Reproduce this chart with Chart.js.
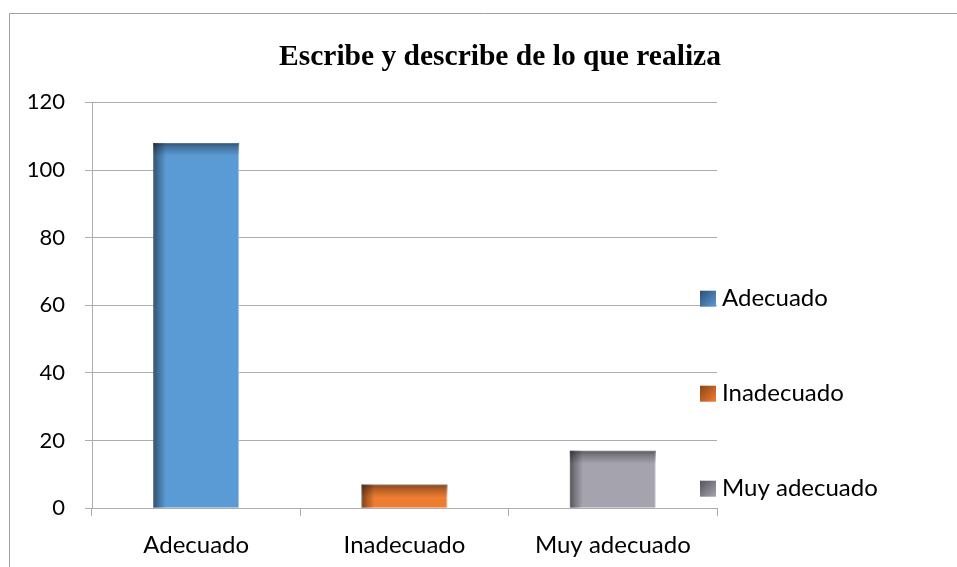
<!DOCTYPE html>
<html>
<head>
<meta charset="utf-8">
<title>Escribe y describe de lo que realiza</title>
<script src="https://cdn.jsdelivr.net/npm/chart.js@4.4.1/dist/chart.umd.min.js"></script>
<style>
  html, body { margin: 0; padding: 0; background: #fff; }
  canvas { display: block; }
</style>
</head>
<body>
<canvas id="chart" width="957" height="567"></canvas>
<script>
// values
const categories = ['Adecuado', 'Inadecuado', 'Muy adecuado'];
const values = [108, 7, 17];
const yTicks = [0, 20, 40, 60, 80, 100, 120];

const barColors = ['#5b9bd5', '#ed7d31', '#a5a4ae'];
const edgeColors = ['#2d4f78', '#8c4517', '#56555d'];
const outlineColors = ['#a3c4e8', '#f2a877', '#d2d2d6'];
const gridColor = '#adadad';
const textFont = 'Lato, "Open Sans", sans-serif';

// white page + thin grey frame round the chart
const framePlugin = {
    id: 'frame',
    beforeDraw(chart) {
        const ctx = chart.ctx;
        ctx.save();
        ctx.fillStyle = '#fff';
        ctx.fillRect(0, 0, chart.width, chart.height);
        ctx.strokeStyle = '#a0a0a0';
        ctx.lineWidth = 1;
        ctx.beginPath();
        ctx.moveTo(9.5, chart.height);
        ctx.lineTo(9.5, 13.5);
        ctx.lineTo(chart.width, 13.5);
        ctx.stroke();
        ctx.restore();
    }
};

// dark inner shadow along the left and top edge of every bar
const shadePlugin = {
    id: 'shade',
    afterDatasetsDraw(chart) {
        const ctx = chart.ctx;
        const meta = chart.getDatasetMeta(0);
        const band = 13;
        ctx.save();
        meta.data.forEach((bar) => {
            const left = bar.x - bar.width / 2;
            const top = Math.min(bar.y, bar.base);
            const h = Math.abs(bar.base - bar.y);
            const w = bar.width;

            let g = ctx.createLinearGradient(left, 0, left + band, 0);
            g.addColorStop(0, 'rgba(0,0,0,0.5)');
            g.addColorStop(0.35, 'rgba(0,0,0,0.3)');
            g.addColorStop(1, 'rgba(0,0,0,0)');
            ctx.fillStyle = g;
            ctx.fillRect(left, top, band, h);

            g = ctx.createLinearGradient(0, top, 0, top + band);
            g.addColorStop(0, 'rgba(0,0,0,0.45)');
            g.addColorStop(0.35, 'rgba(0,0,0,0.25)');
            g.addColorStop(1, 'rgba(0,0,0,0)');
            ctx.fillStyle = g;
            ctx.fillRect(left, top, w, Math.min(band, h));
        });
        ctx.restore();
    }
};

// legend on the right, one entry per category
const legendPlugin = {
    id: 'sideLegend',
    afterDraw(chart) {
        const area = chart.chartArea;
        const ctx = chart.ctx;
        const step = 95;
        ctx.save();
        ctx.font = '24px ' + textFont;
        ctx.textBaseline = 'middle';
        categories.forEach((name, i) => {
            const cy = area.bottom - 19.5 - (categories.length - 1 - i) * step;
            const bx = area.right - 17;
            const g = ctx.createLinearGradient(bx, cy - 8, bx + 16, cy + 8);
            g.addColorStop(0, edgeColors[i]);
            g.addColorStop(1, barColors[i]);
            ctx.fillStyle = g;
            ctx.fillRect(bx, cy - 8, 16, 16);
            ctx.fillStyle = '#000';
            ctx.fillText(name, bx + 22, cy);
        });
        ctx.restore();
    }
};

new Chart(document.getElementById('chart'), {
    type: 'bar',
    data: {
        labels: categories,
        datasets: [{
            data: values,
            backgroundColor: barColors,
            borderColor: outlineColors,
            borderWidth: 1,
            categoryPercentage: 1,
            barPercentage: 0.413
        }]
    },
    options: {
        responsive: false,
        animation: false,
        // right padding below zero so the title centres where the original has it
        layout: { padding: { left: 0, right: -43, top: 0, bottom: -8 } },
        plugins: {
            legend: { display: false },
            tooltip: { enabled: false },
            title: {
                display: true,
                text: 'Escribe y describe de lo que realiza',
                font: { family: '"Liberation Serif", "Times New Roman", serif', size: 29.5, weight: 'bold' },
                color: '#000',
                padding: { top: 40, bottom: 27 }
            }
        },
        scales: {
            x: {
                grid: { offset: true, drawOnChartArea: false, color: gridColor, tickLength: 8 },
                border: { color: gridColor },
                ticks: { font: { family: textFont, size: 24 }, color: '#000', padding: 15, maxRotation: 0 }
            },
            y: {
                min: 0,
                max: 120,
                afterBuildTicks: (s) => { s.ticks = yTicks.map((v) => ({ value: v })); },
                grid: { color: gridColor, tickLength: 7 },
                border: { color: gridColor },
                ticks: { font: { family: textFont, size: 22 }, color: '#000', padding: 20 },
                afterFit: (s) => { s.width = 92; }
            },
            // empty box on the right that leaves room for the legend
            side: {
                type: 'linear',
                position: 'right',
                grid: { display: false },
                border: { display: false },
                ticks: { display: false },
                afterFit: (s) => { s.width = 283; }
            }
        }
    },
    plugins: [framePlugin, shadePlugin, legendPlugin]
});
</script>
</body>
</html>
